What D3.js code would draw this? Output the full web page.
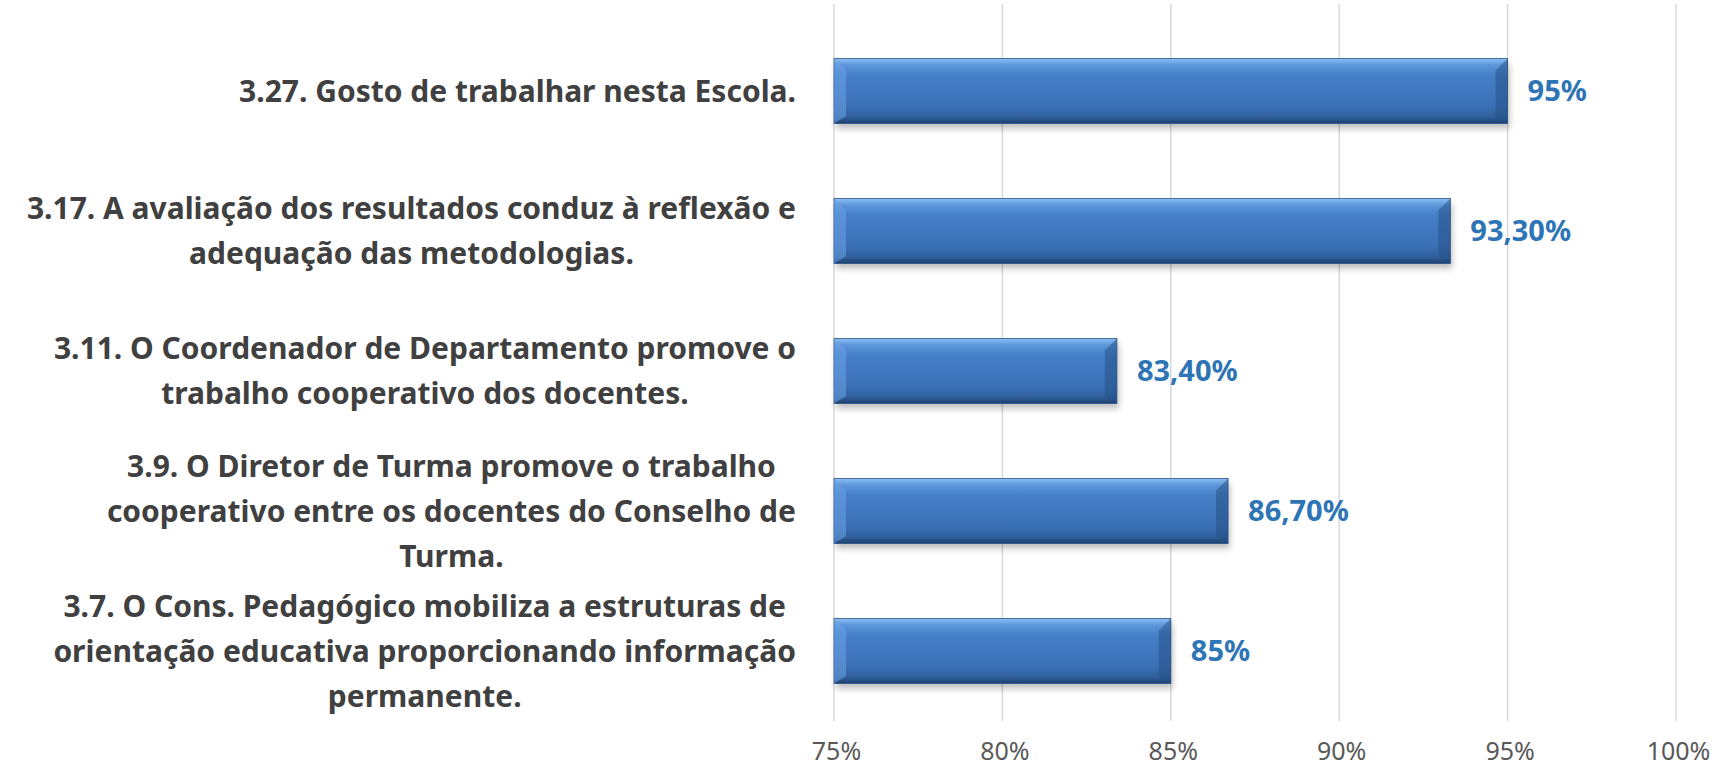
<!DOCTYPE html>
<html>
<head>
<meta charset="utf-8">
<script src="https://cdn.jsdelivr.net/npm/d3@7"></script>
<style>
  body { margin: 0; background: #fff; }
  svg { display: block; }
</style>
</head>
<body>
<div id="chart"></div>
<script>
// category labels, one entry per bar (lines as drawn)
const categories = [
  ["3.27. Gosto de trabalhar nesta Escola."],
  ["3.17. A avaliação dos resultados conduz à reflexão e", "adequação das metodologias."],
  ["3.11. O Coordenador de Departamento promove o", "trabalho cooperativo dos docentes."],
  ["3.9. O Diretor de Turma promove o trabalho", "cooperativo entre os docentes do Conselho de", "Turma."],
  ["3.7. O Cons. Pedagógico mobiliza a estruturas de", "orientação educativa proporcionando informação", "permanente."]
];
const values = [95, 93.3, 83.4, 86.7, 85];
const valueLabels = ["95%", "93,30%", "83,40%", "86,70%", "85%"];
const ticks = [75, 80, 85, 90, 95, 100];

const width = 1714, height = 774;
const margin = { top: 21, right: 38, bottom: 53, left: 834 };
const font = "'Liberation Sans Narrow', 'Noto Sans', sans-serif";

const svg = d3.select("#chart").append("svg")
  .attr("width", width)
  .attr("height", height);

svg.append("rect").attr("width", width).attr("height", height).attr("fill", "#fff");

const x = d3.scaleLinear().domain([75, 100]).range([margin.left, width - margin.right]);
const y = d3.scaleBand()
  .domain(d3.range(categories.length))
  .range([margin.top, height - margin.bottom])
  .paddingInner(0.535)
  .paddingOuter(0.2675);

// gradient for the bars
const defs = svg.append("defs");
const grad = defs.append("linearGradient").attr("id", "barGrad")
  .attr("x1", 0).attr("y1", 0).attr("x2", 0).attr("y2", 1);
grad.append("stop").attr("offset", "0%").attr("stop-color", "#8cc0f3");
grad.append("stop").attr("offset", "10%").attr("stop-color", "#5d97da");
grad.append("stop").attr("offset", "25%").attr("stop-color", "#4680c8");
grad.append("stop").attr("offset", "75%").attr("stop-color", "#3a6fb4");
grad.append("stop").attr("offset", "90%").attr("stop-color", "#2f5f9c");
grad.append("stop").attr("offset", "100%").attr("stop-color", "#1e3f6b");

const shadow = defs.append("filter").attr("id", "shadow")
  .attr("x", "-5%").attr("y", "-20%").attr("width", "110%").attr("height", "150%");
shadow.append("feGaussianBlur").attr("stdDeviation", 3);

// gridlines
svg.append("g").selectAll("line")
  .data(ticks)
  .join("line")
  .attr("x1", d => x(d)).attr("x2", d => x(d))
  .attr("y1", 4).attr("y2", height - margin.bottom)
  .attr("stroke", "#d9d9d9")
  .attr("stroke-width", 1.5);

// x axis tick labels
const xAxis = d3.axisBottom(x).tickValues(ticks).tickSize(0).tickPadding(18)
  .tickFormat(d => d + "%");
svg.append("g")
  .attr("transform", `translate(2,${height - margin.bottom + 3})`)
  .call(xAxis)
  .call(g => g.select(".domain").remove())
  .call(g => g.selectAll("text")
    .attr("fill", "#595959")
    .style("font-family", font)
    .style("font-size", "25px"));

// bars
const bars = svg.append("g").selectAll("g")
  .data(values)
  .join("g");

bars.append("rect")
  .attr("x", x(75) + 2)
  .attr("y", (d, i) => y(i) + 5)
  .attr("width", d => x(d) - x(75))
  .attr("height", y.bandwidth())
  .attr("fill", "#000")
  .attr("opacity", 0.25)
  .attr("filter", "url(#shadow)");

bars.append("rect")
  .attr("x", x(75))
  .attr("y", (d, i) => y(i))
  .attr("width", d => x(d) - x(75))
  .attr("height", y.bandwidth())
  .attr("fill", "url(#barGrad)")
  .attr("stroke", "#2a558c")
  .attr("stroke-width", 0.8);

// bevel: left face lighter, right face darker
const bev = 12;
bars.append("path")
  .attr("d", (d, i) => {
    const x0 = x(75), y0 = y(i), h = y.bandwidth();
    return `M${x0},${y0}L${x0 + bev},${y0 + bev}L${x0 + bev},${y0 + h - bev * 0.6}L${x0},${y0 + h}Z`;
  })
  .attr("fill", "#6aa3e4")
  .attr("opacity", 0.55);

bars.append("path")
  .attr("d", (d, i) => {
    const x1 = x(d), y0 = y(i), h = y.bandwidth();
    return `M${x1},${y0}L${x1 - bev},${y0 + bev}L${x1 - bev},${y0 + h - bev * 0.6}L${x1},${y0 + h}Z`;
  })
  .attr("fill", "#234d82")
  .attr("opacity", 0.5);

// value labels
svg.append("g").selectAll("text")
  .data(values)
  .join("text")
  .attr("x", d => x(d) + 20)
  .attr("y", (d, i) => y(i) + y.bandwidth() / 2)
  .attr("dy", "0.36em")
  .attr("fill", "#2e75b6")
  .style("font-family", font)
  .style("font-weight", "bold")
  .style("font-size", "29px")
  .text((d, i) => valueLabels[i]);

// category labels: lines centered within a block right-aligned to the axis
const lineH = 45;
const labelRight = margin.left - 38;
const labels = svg.append("g").selectAll("g")
  .data(categories)
  .join("g");

labels.each(function(lines, i) {
  const g = d3.select(this);
  const cy = y(i) + y.bandwidth() / 2;
  const texts = g.selectAll("text")
    .data(lines)
    .join("text")
    .attr("y", (d, j) => cy + (j - (lines.length - 1) / 2) * lineH)
    .attr("dy", "0.36em")
    .attr("text-anchor", "middle")
    .attr("fill", "#404040")
    .style("font-family", font)
    .style("font-weight", "bold")
    .style("font-size", "30px")
    .text(d => d);
  let maxW = 0;
  texts.each(function() { maxW = Math.max(maxW, this.getComputedTextLength()); });
  texts.attr("x", labelRight - maxW / 2);
});
</script>
</body>
</html>
